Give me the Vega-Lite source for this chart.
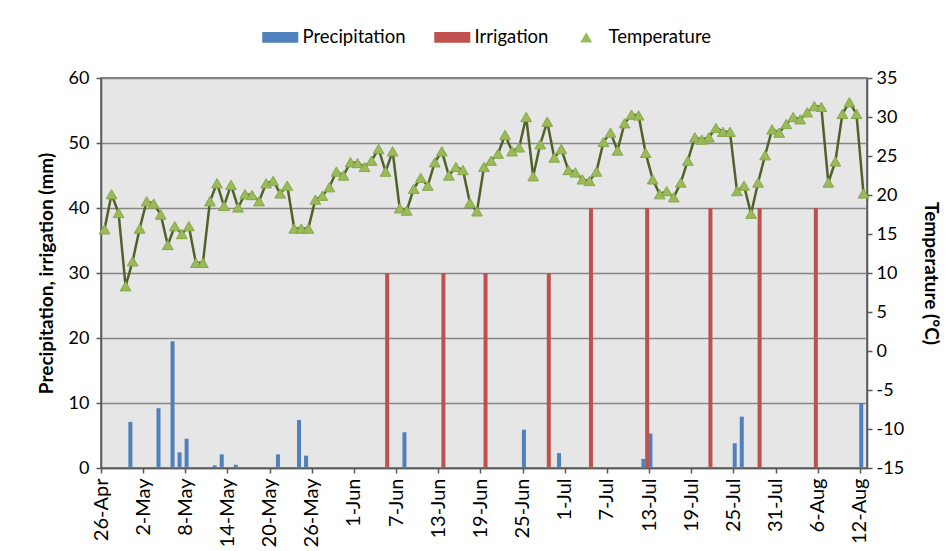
{
  "$schema": "https://vega.github.io/schema/vega-lite/v6.json",
  "width": 766,
  "height": 390,
  "autosize": {"type": "none"},
  "padding": {"left": 101, "top": 78, "right": 85, "bottom": 83},
  "background": "white",
  "config": {
    "font": "Lato",
    "view": {"fill": "#e6e6e6", "stroke": "#5a5a5a", "strokeWidth": 1.5},
    "axis": {"labelFont": "Lato", "labelColor": "#000000", "titleColor": "#000000", "titleFont": "Lato", "domainColor": "#5a5a5a", "tickColor": "#5a5a5a", "domainWidth": 1.5, "tickWidth": 1.5, "tickSize": 5},
    "axisX": {
      "title": null, "grid": false, "labelAngle": 270, "labelFontSize": 20, "labelPadding": 5,
      "format": "%-d-%b", "formatType": "utc"
    },
    "axisLeft": {
      "titleFontSize": 19, "titleFontWeight": "bold", "titlePadding": 12, "labelFontSize": 18, "labelPadding": 7,
      "grid": true, "gridColor": "#868686", "gridWidth": 1.5
    },
    "axisRight": {
      "titleFontSize": 19, "titleFontWeight": "bold", "titlePadding": 17, "labelFontSize": 18, "labelPadding": 4, "grid": false
    },
    "legend": {
      "title": null, "orient": "none", "legendX": 170, "legendY": -50, "direction": "horizontal",
      "labelFontSize": 18.5, "labelColor": "#000000", "labelFont": "Lato", "symbolSize": 144, "labelOffset": 13,
      "columnPadding": 28, "padding": 0, "symbolStrokeWidth": 0, "symbolOpacity": 1
    }
  },
  "datasets": {
    "precip": [
      {"date": "2013-04-30", "mm": 7.1}, {"date": "2013-05-04", "mm": 9.2}, {"date": "2013-05-06", "mm": 19.5},
      {"date": "2013-05-07", "mm": 2.4}, {"date": "2013-05-08", "mm": 4.5}, {"date": "2013-05-12", "mm": 0.4},
      {"date": "2013-05-13", "mm": 2.1}, {"date": "2013-05-15", "mm": 0.5}, {"date": "2013-05-21", "mm": 2.1},
      {"date": "2013-05-24", "mm": 7.4}, {"date": "2013-05-25", "mm": 1.9}, {"date": "2013-06-08", "mm": 5.5},
      {"date": "2013-06-25", "mm": 5.9}, {"date": "2013-06-30", "mm": 2.3}, {"date": "2013-07-12", "mm": 1.4},
      {"date": "2013-07-13", "mm": 5.3}, {"date": "2013-07-25", "mm": 3.8}, {"date": "2013-07-26", "mm": 7.9},
      {"date": "2013-08-12", "mm": 10.0}
    ],
    "irrigation": [
      {"date": "2013-06-05", "mm": 30}, {"date": "2013-06-13", "mm": 30}, {"date": "2013-06-19", "mm": 30},
      {"date": "2013-06-28", "mm": 30}, {"date": "2013-07-04", "mm": 40}, {"date": "2013-07-12", "mm": 40},
      {"date": "2013-07-21", "mm": 40}, {"date": "2013-07-28", "mm": 40}, {"date": "2013-08-05", "mm": 40}
    ],
    "temp": [
      {"date": "2013-04-26", "t": 15.6}, {"date": "2013-04-27", "t": 20.1}, {"date": "2013-04-28", "t": 17.7},
      {"date": "2013-04-29", "t": 8.3}, {"date": "2013-04-30", "t": 11.5}, {"date": "2013-05-01", "t": 15.7},
      {"date": "2013-05-02", "t": 19.2}, {"date": "2013-05-03", "t": 18.9}, {"date": "2013-05-04", "t": 17.5},
      {"date": "2013-05-05", "t": 13.6}, {"date": "2013-05-06", "t": 16.0}, {"date": "2013-05-07", "t": 15.0},
      {"date": "2013-05-08", "t": 16.0}, {"date": "2013-05-09", "t": 11.3}, {"date": "2013-05-10", "t": 11.3},
      {"date": "2013-05-11", "t": 19.2}, {"date": "2013-05-12", "t": 21.5}, {"date": "2013-05-13", "t": 18.6},
      {"date": "2013-05-14", "t": 21.3}, {"date": "2013-05-15", "t": 18.4}, {"date": "2013-05-16", "t": 20.1},
      {"date": "2013-05-17", "t": 20.0}, {"date": "2013-05-18", "t": 19.2}, {"date": "2013-05-19", "t": 21.5},
      {"date": "2013-05-20", "t": 21.8}, {"date": "2013-05-21", "t": 20.2}, {"date": "2013-05-22", "t": 21.2},
      {"date": "2013-05-23", "t": 15.7}, {"date": "2013-05-24", "t": 15.7}, {"date": "2013-05-25", "t": 15.7},
      {"date": "2013-05-26", "t": 19.4}, {"date": "2013-05-27", "t": 19.9}, {"date": "2013-05-28", "t": 21.0},
      {"date": "2013-05-29", "t": 23.0}, {"date": "2013-05-30", "t": 22.5}, {"date": "2013-05-31", "t": 24.2},
      {"date": "2013-06-01", "t": 24.1}, {"date": "2013-06-02", "t": 23.6}, {"date": "2013-06-03", "t": 24.4},
      {"date": "2013-06-04", "t": 25.9}, {"date": "2013-06-05", "t": 23.0}, {"date": "2013-06-06", "t": 25.6},
      {"date": "2013-06-07", "t": 18.3}, {"date": "2013-06-08", "t": 18.0}, {"date": "2013-06-09", "t": 20.8},
      {"date": "2013-06-10", "t": 22.2}, {"date": "2013-06-11", "t": 21.2}, {"date": "2013-06-12", "t": 24.2},
      {"date": "2013-06-13", "t": 25.6}, {"date": "2013-06-14", "t": 22.5}, {"date": "2013-06-15", "t": 23.6},
      {"date": "2013-06-16", "t": 23.2}, {"date": "2013-06-17", "t": 19.0}, {"date": "2013-06-18", "t": 17.9},
      {"date": "2013-06-19", "t": 23.6}, {"date": "2013-06-20", "t": 24.4}, {"date": "2013-06-21", "t": 25.3},
      {"date": "2013-06-22", "t": 27.7}, {"date": "2013-06-23", "t": 25.6}, {"date": "2013-06-24", "t": 26.1},
      {"date": "2013-06-25", "t": 30.0}, {"date": "2013-06-26", "t": 22.4}, {"date": "2013-06-27", "t": 26.5},
      {"date": "2013-06-28", "t": 29.4}, {"date": "2013-06-29", "t": 24.8}, {"date": "2013-06-30", "t": 25.9},
      {"date": "2013-07-01", "t": 23.2}, {"date": "2013-07-02", "t": 22.9}, {"date": "2013-07-03", "t": 22.0},
      {"date": "2013-07-04", "t": 21.8}, {"date": "2013-07-05", "t": 23.0}, {"date": "2013-07-06", "t": 26.8},
      {"date": "2013-07-07", "t": 28.0}, {"date": "2013-07-08", "t": 25.7}, {"date": "2013-07-09", "t": 29.2},
      {"date": "2013-07-10", "t": 30.3}, {"date": "2013-07-11", "t": 30.2}, {"date": "2013-07-12", "t": 25.4},
      {"date": "2013-07-13", "t": 22.0}, {"date": "2013-07-14", "t": 20.1}, {"date": "2013-07-15", "t": 20.5},
      {"date": "2013-07-16", "t": 19.7}, {"date": "2013-07-17", "t": 21.6}, {"date": "2013-07-18", "t": 24.4},
      {"date": "2013-07-19", "t": 27.4}, {"date": "2013-07-20", "t": 27.1}, {"date": "2013-07-21", "t": 27.4},
      {"date": "2013-07-22", "t": 28.6}, {"date": "2013-07-23", "t": 28.1}, {"date": "2013-07-24", "t": 28.1},
      {"date": "2013-07-25", "t": 20.5}, {"date": "2013-07-26", "t": 21.2}, {"date": "2013-07-27", "t": 17.6},
      {"date": "2013-07-28", "t": 21.6}, {"date": "2013-07-29", "t": 25.1}, {"date": "2013-07-30", "t": 28.4},
      {"date": "2013-07-31", "t": 28.0}, {"date": "2013-08-01", "t": 29.1}, {"date": "2013-08-02", "t": 30.0},
      {"date": "2013-08-03", "t": 29.7}, {"date": "2013-08-04", "t": 30.6}, {"date": "2013-08-05", "t": 31.4},
      {"date": "2013-08-06", "t": 31.3}, {"date": "2013-08-07", "t": 21.6}, {"date": "2013-08-08", "t": 24.3},
      {"date": "2013-08-09", "t": 30.4}, {"date": "2013-08-10", "t": 31.9}, {"date": "2013-08-11", "t": 30.4},
      {"date": "2013-08-12", "t": 20.2}
    ]
  },
  "layer": [
    {
      "layer": [
        {
          "data": {"name": "precip"},
          "mark": {"type": "rule", "color": "#4f81bd", "strokeWidth": 4},
          "encoding": {
            "x": {
              "field": "date", "type": "temporal", "timeUnit": "utcyearmonthdate", "bandPosition": 0.18, "title": null,
              "scale": {"type": "utc", "nice": false, "domain": [{"year": 2013, "month": 4, "date": 26, "utc": true}, {"year": 2013, "month": 8, "date": 13, "utc": true}]},
              "axis": {
                "values": [
                  {"year": 2013, "month": 4, "date": 26, "utc": true}, {"year": 2013, "month": 5, "date": 2, "utc": true},
                  {"year": 2013, "month": 5, "date": 8, "utc": true}, {"year": 2013, "month": 5, "date": 14, "utc": true},
                  {"year": 2013, "month": 5, "date": 20, "utc": true}, {"year": 2013, "month": 5, "date": 26, "utc": true},
                  {"year": 2013, "month": 6, "date": 1, "utc": true}, {"year": 2013, "month": 6, "date": 7, "utc": true},
                  {"year": 2013, "month": 6, "date": 13, "utc": true}, {"year": 2013, "month": 6, "date": 19, "utc": true},
                  {"year": 2013, "month": 6, "date": 25, "utc": true}, {"year": 2013, "month": 7, "date": 1, "utc": true},
                  {"year": 2013, "month": 7, "date": 7, "utc": true}, {"year": 2013, "month": 7, "date": 13, "utc": true},
                  {"year": 2013, "month": 7, "date": 19, "utc": true}, {"year": 2013, "month": 7, "date": 25, "utc": true},
                  {"year": 2013, "month": 7, "date": 31, "utc": true}, {"year": 2013, "month": 8, "date": 6, "utc": true},
                  {"year": 2013, "month": 8, "date": 12, "utc": true}
                ]
              }
            },
            "y": {
              "field": "mm", "type": "quantitative", "title": "Precipitation, irrigation (mm)",
              "scale": {"domain": [0, 60], "nice": false},
              "axis": {"orient": "left", "values": [0, 10, 20, 30, 40, 50, 60]}
            },
            "y2": {"datum": 0}
          }
        },
        {
          "data": {"name": "irrigation"},
          "mark": {"type": "rule", "color": "#c0504d", "strokeWidth": 4},
          "encoding": {
            "x": {
              "field": "date", "type": "temporal", "timeUnit": "utcyearmonthdate", "bandPosition": 0.72, "title": null,
              "scale": {"type": "utc", "nice": false, "domain": [{"year": 2013, "month": 4, "date": 26, "utc": true}, {"year": 2013, "month": 8, "date": 13, "utc": true}]},
              "axis": {
                "values": [
                  {"year": 2013, "month": 4, "date": 26, "utc": true}, {"year": 2013, "month": 5, "date": 2, "utc": true},
                  {"year": 2013, "month": 5, "date": 8, "utc": true}, {"year": 2013, "month": 5, "date": 14, "utc": true},
                  {"year": 2013, "month": 5, "date": 20, "utc": true}, {"year": 2013, "month": 5, "date": 26, "utc": true},
                  {"year": 2013, "month": 6, "date": 1, "utc": true}, {"year": 2013, "month": 6, "date": 7, "utc": true},
                  {"year": 2013, "month": 6, "date": 13, "utc": true}, {"year": 2013, "month": 6, "date": 19, "utc": true},
                  {"year": 2013, "month": 6, "date": 25, "utc": true}, {"year": 2013, "month": 7, "date": 1, "utc": true},
                  {"year": 2013, "month": 7, "date": 7, "utc": true}, {"year": 2013, "month": 7, "date": 13, "utc": true},
                  {"year": 2013, "month": 7, "date": 19, "utc": true}, {"year": 2013, "month": 7, "date": 25, "utc": true},
                  {"year": 2013, "month": 7, "date": 31, "utc": true}, {"year": 2013, "month": 8, "date": 6, "utc": true},
                  {"year": 2013, "month": 8, "date": 12, "utc": true}
                ]
              }
            },
            "y": {
              "field": "mm", "type": "quantitative", "title": "Precipitation, irrigation (mm)",
              "scale": {"domain": [0, 60], "nice": false},
              "axis": {"orient": "left", "values": [0, 10, 20, 30, 40, 50, 60]}
            },
            "y2": {"datum": 0}
          }
        }
      ]
    },
    {
      "data": {"name": "temp"},
      "layer": [
        {
          "mark": {"type": "line", "color": "#4f6228", "strokeWidth": 2.5},
          "encoding": {
            "x": {
              "field": "date", "type": "temporal", "timeUnit": "utcyearmonthdate", "bandPosition": 0.5, "title": null,
              "scale": {"type": "utc", "nice": false, "domain": [{"year": 2013, "month": 4, "date": 26, "utc": true}, {"year": 2013, "month": 8, "date": 13, "utc": true}]},
              "axis": {
                "values": [
                  {"year": 2013, "month": 4, "date": 26, "utc": true}, {"year": 2013, "month": 5, "date": 2, "utc": true},
                  {"year": 2013, "month": 5, "date": 8, "utc": true}, {"year": 2013, "month": 5, "date": 14, "utc": true},
                  {"year": 2013, "month": 5, "date": 20, "utc": true}, {"year": 2013, "month": 5, "date": 26, "utc": true},
                  {"year": 2013, "month": 6, "date": 1, "utc": true}, {"year": 2013, "month": 6, "date": 7, "utc": true},
                  {"year": 2013, "month": 6, "date": 13, "utc": true}, {"year": 2013, "month": 6, "date": 19, "utc": true},
                  {"year": 2013, "month": 6, "date": 25, "utc": true}, {"year": 2013, "month": 7, "date": 1, "utc": true},
                  {"year": 2013, "month": 7, "date": 7, "utc": true}, {"year": 2013, "month": 7, "date": 13, "utc": true},
                  {"year": 2013, "month": 7, "date": 19, "utc": true}, {"year": 2013, "month": 7, "date": 25, "utc": true},
                  {"year": 2013, "month": 7, "date": 31, "utc": true}, {"year": 2013, "month": 8, "date": 6, "utc": true},
                  {"year": 2013, "month": 8, "date": 12, "utc": true}
                ]
              }
            },
            "y": {
              "field": "t", "type": "quantitative", "title": "Temperature (°C)",
              "scale": {"domain": [-15, 35], "nice": false},
              "axis": {"orient": "right", "values": [-15, -10, -5, 0, 5, 10, 15, 20, 25, 30, 35], "labelExpr": "'' + datum.value"}
            }
          }
        },
        {
          "mark": {"type": "point", "filled": true, "size": 115, "opacity": 1, "stroke": "#86a64a", "strokeWidth": 1},
          "encoding": {
            "x": {
              "field": "date", "type": "temporal", "timeUnit": "utcyearmonthdate", "bandPosition": 0.5, "title": null,
              "scale": {"type": "utc", "nice": false, "domain": [{"year": 2013, "month": 4, "date": 26, "utc": true}, {"year": 2013, "month": 8, "date": 13, "utc": true}]},
              "axis": {
                "values": [
                  {"year": 2013, "month": 4, "date": 26, "utc": true}, {"year": 2013, "month": 5, "date": 2, "utc": true},
                  {"year": 2013, "month": 5, "date": 8, "utc": true}, {"year": 2013, "month": 5, "date": 14, "utc": true},
                  {"year": 2013, "month": 5, "date": 20, "utc": true}, {"year": 2013, "month": 5, "date": 26, "utc": true},
                  {"year": 2013, "month": 6, "date": 1, "utc": true}, {"year": 2013, "month": 6, "date": 7, "utc": true},
                  {"year": 2013, "month": 6, "date": 13, "utc": true}, {"year": 2013, "month": 6, "date": 19, "utc": true},
                  {"year": 2013, "month": 6, "date": 25, "utc": true}, {"year": 2013, "month": 7, "date": 1, "utc": true},
                  {"year": 2013, "month": 7, "date": 7, "utc": true}, {"year": 2013, "month": 7, "date": 13, "utc": true},
                  {"year": 2013, "month": 7, "date": 19, "utc": true}, {"year": 2013, "month": 7, "date": 25, "utc": true},
                  {"year": 2013, "month": 7, "date": 31, "utc": true}, {"year": 2013, "month": 8, "date": 6, "utc": true},
                  {"year": 2013, "month": 8, "date": 12, "utc": true}
                ]
              }
            },
            "y": {
              "field": "t", "type": "quantitative", "title": "Temperature (°C)",
              "scale": {"domain": [-15, 35], "nice": false},
              "axis": {"orient": "right", "values": [-15, -10, -5, 0, 5, 10, 15, 20, 25, 30, 35], "labelExpr": "'' + datum.value"}
            },
            "color": {
              "datum": "Temperature",
              "scale": {"domain": ["Precipitation", "Irrigation", "Temperature"], "range": ["#4f81bd", "#c0504d", "#9bbb59"]},
              "legend": {"title": null}
            },
            "shape": {
              "datum": "Temperature",
              "scale": {"domain": ["Precipitation", "Irrigation", "Temperature"], "range": ["M-3,-0.9H3V0.9H-3Z", "M-3,-0.9H3V0.9H-3Z", "triangle-up"]},
              "legend": {"title": null}
            }
          }
        }
      ]
    }
  ],
  "resolve": {"scale": {"y": "independent"}}
}
